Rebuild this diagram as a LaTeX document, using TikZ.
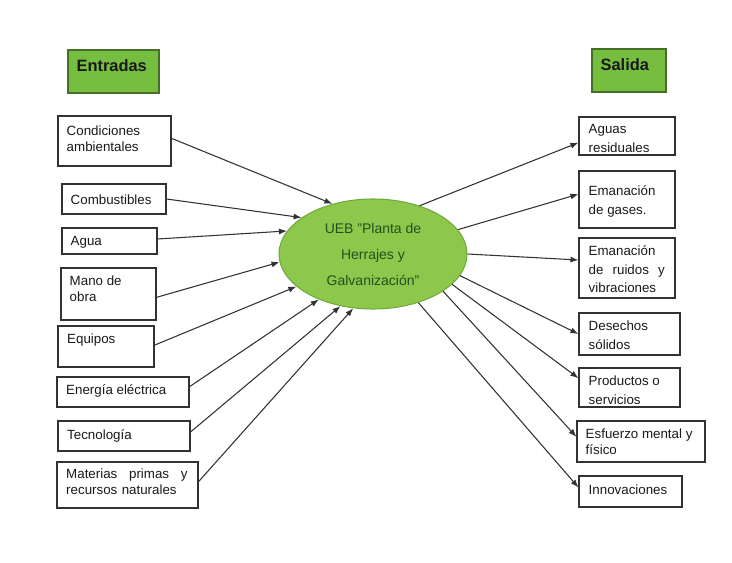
\documentclass[tikz,border=0pt]{standalone}
\usepackage{fontspec}
\setmainfont{Liberation Sans}
\usetikzlibrary{arrows.meta,fit,shapes.geometric}
\definecolor{boxgreen}{RGB}{118,190,64}
\definecolor{boxgreenedge}{RGB}{70,110,40}
\definecolor{ellgreen}{RGB}{141,200,76}
\definecolor{elledge}{RGB}{110,170,60}
\definecolor{elltext}{RGB}{35,80,28}
\definecolor{linegray}{RGB}{50,50,50}
\definecolor{txtgray}{RGB}{25,25,25}
\begin{document}
\begin{tikzpicture}[x=0.75pt,y=-0.75pt,
  box/.style={draw=linegray, line width=0.8pt, inner sep=0pt, fill=white},
  greenbox/.style={draw=boxgreenedge, line width=0.9pt, fill=boxgreen, inner sep=0pt},
  lbl/.style={anchor=north west, inner sep=0pt, align=left, text=txtgray, font=\fontsize{10}{12}\selectfont},
  rlbl/.style={lbl, font=\fontsize{10}{14}\selectfont},
  head/.style={anchor=north west, inner sep=0pt, text=black!90, font=\fontsize{12.3}{14}\selectfont\bfseries},
  arr/.style={draw=linegray, line width=0.8pt, -{Latex[length=6pt,width=4.5pt]}},
  centre/.style={ellipse, draw=elledge, line width=0.8pt, fill=ellgreen, minimum width=141pt, minimum height=82.5pt, inner sep=0pt, align=center, text=elltext, font=\fontsize{10.5}{19.5}\selectfont}
]
\useasboundingbox (0,0) rectangle (732,563);

% headers
\node[greenbox, fit={(68,50) (159,93)}] (ent) {};
\node[head] (entt) at ([shift={(9,10)}]ent.north west) {Entradas};
\node[greenbox, fit={(592,49) (666,92)}] (sal) {};
\node[head] (salt) at ([shift={(9,9.5)}]sal.north west) {Salida};

% centre
\node[centre] (ueb) at (373,254) {UEB "Planta de\\Herrajes y\\Galvanización"};

% inputs
\node[box, fit={(58,116) (171,166)}] (c1) {};
\node[lbl] (c1t) at ([shift={(9,10)}]c1.north west) {Condiciones\\ambientales};
\node[box, fit={(62,184) (166,214)}] (c2) {};
\node[lbl] (c2t) at ([shift={(9,11)}]c2.north west) {Combustibles};
\node[box, fit={(62,228) (157,254)}] (c3) {};
\node[lbl] (c3t) at ([shift={(9,8.5)}]c3.north west) {Agua};
\node[box, fit={(61,268) (156,320)}] (c4) {};
\node[lbl] (c4t) at ([shift={(9,8)}]c4.north west) {Mano de\\obra};
\node[box, fit={(58,326) (154,367)}] (c5) {};
\node[lbl] (c5t) at ([shift={(9.5,8.5)}]c5.north west) {Equipos};
\node[box, fit={(57,377) (189,407)}] (c6) {};
\node[lbl] (c6t) at ([shift={(9.5,8)}]c6.north west) {Energía eléctrica};
\node[box, fit={(58,421) (190,451)}] (c7) {};
\node[lbl] (c7t) at ([shift={(9.5,8.5)}]c7.north west) {Tecnología};
\node[box, fit={(57,462) (198,508)}] (c8) {};
\node[lbl, text width=91pt] (c8t) at ([shift={(9.5,7.5)}]c8.north west) {Materias\hfill primas\hfill y\\recursos naturales};

% outputs
\node[box, fit={(579,117) (675,155)}] (o1) {};
\node[rlbl] (o1t) at ([shift={(10,8)}]o1.north west) {Aguas\\residuales};
\node[box, fit={(579,171) (675,228)}] (o2) {};
\node[rlbl] (o2t) at ([shift={(10,15)}]o2.north west) {Emanación\\de gases.};
\node[box, fit={(579,238) (675,298)}] (o3) {};
\node[rlbl, text width=57pt] (o3t) at ([shift={(10,8)}]o3.north west) {Emanación\\de\hfill ruidos\hfill y\\vibraciones};
\node[box, fit={(579,313) (680,355)}] (o4) {};
\node[rlbl] (o4t) at ([shift={(10,8.5)}]o4.north west) {Desechos\\sólidos};
\node[box, fit={(579,368) (680,407)}] (o5) {};
\node[rlbl] (o5t) at ([shift={(10,8)}]o5.north west) {Productos o\\servicios};
\node[box, fit={(577,421) (705,462)}] (o6) {};
\node[lbl] (o6t) at ([shift={(9,8.5)}]o6.north west) {Esfuerzo mental y\\físico};
\node[box, fit={(579,476) (682,507)}] (o7) {};
\node[rlbl] (o7t) at ([shift={(10,9.5)}]o7.north west) {Innovaciones};

% input connectors
\draw[arr] ([yshift=2pt]c1.east) -- (ueb.129.6);
\draw[arr] (c2.east) -- (ueb.153.9);
\draw[arr] ([yshift=1.5pt]c3.east) -- (ueb.165.5);
\draw[arr] ([yshift=-2.5pt]c4.east) -- (ueb.185.3);
\draw[arr] ([yshift=1pt]c5.east) -- (ueb.203.4);
\draw[arr] ([yshift=4pt]c6.east) -- (ueb.220.3);
\draw[arr] ([yshift=3pt]c7.east) -- (ueb.238.6);
\draw[arr] ([yshift=2.5pt]c8.east) -- (ueb.250.9);

% output connectors
\draw[arr] (ueb.46.8) -- ([yshift=-5pt]o1.west);
\draw[arr] (ueb.16.6) -- ([yshift=4pt]o2.west);
\draw[arr] (ueb.-0.6) -- ([yshift=6pt]o3.west);
\draw[arr] (ueb.-14.3) -- (o4.west);
\draw[arr] (ueb.-21.9) -- ([yshift=7pt]o5.west);
\draw[arr] (ueb.-28) -- ([yshift=3.5pt]o6.west);
\draw[arr] (ueb.-47.9) -- ([yshift=3pt]o7.west);
\end{tikzpicture}
\end{document}
